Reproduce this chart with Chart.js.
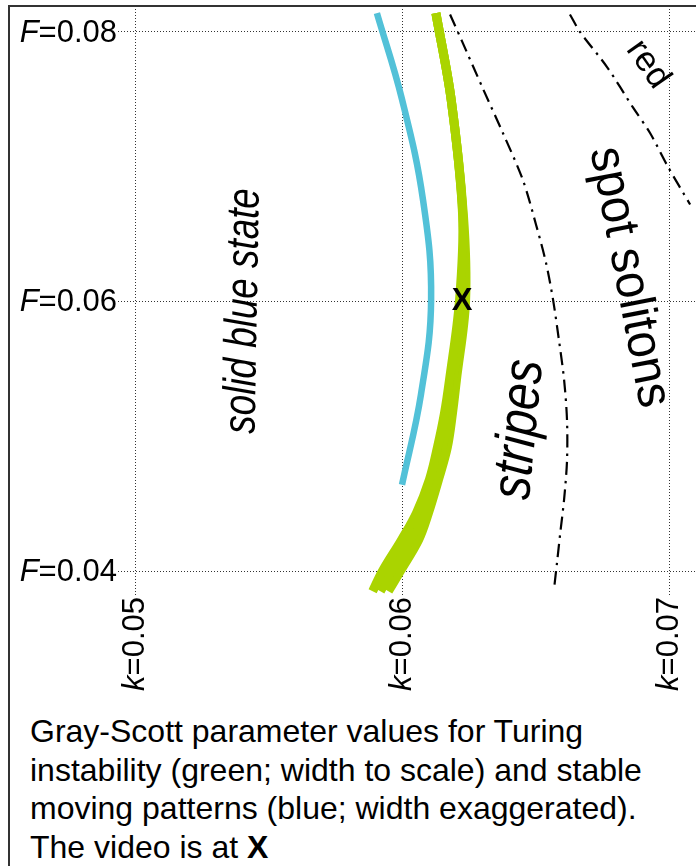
<!DOCTYPE html>
<html>
<head>
<meta charset="utf-8">
<script src="https://cdn.jsdelivr.net/npm/chart.js@4.4.1/dist/chart.umd.min.js"></script>
<style>
  body { margin: 0; background: #fff; width: 696px; height: 866px; overflow: hidden; position: relative;
         font-family: "Liberation Sans", Arial, sans-serif; }
  #wrap { position: absolute; left: 0; top: 0; width: 696px; height: 700px; }
  .frameL { position: absolute; left: 8px; top: 5px; width: 2px; height: 861px; background: #333; }
  .frameT { position: absolute; left: 8px; top: 5px; width: 688px; height: 2px; background: #333; }
  #caption { position: absolute; left: 30px; top: 712px; font-size: 32px; line-height: 38.5px;
             color: #000; white-space: nowrap; }
</style>
</head>
<body>
<div id="wrap"><canvas id="myChart" width="696" height="700"></canvas></div>
<div class="frameL"></div>
<div class="frameT"></div>
<div id="caption">Gray-Scott parameter values for Turing<br>instability (green; width to scale) and stable<br>moving patterns (blue; width exaggerated).<br>The video is at <b>X</b></div>
<script>
// axis ticks
var kTicks = [0.05, 0.06, 0.07];
var kTickLabels = ['0.05', '0.06', '0.07'];
var fTicks = [0.04, 0.06, 0.08];
var fTickLabels = ['0.04', '0.06', '0.08'];

// blue: stable moving patterns
var blueK = [0.05906, 0.06000, 0.06079, 0.06109, 0.06071, 0.06000];
var blueF = [0.0814, 0.0750, 0.0675, 0.0601, 0.0531, 0.0464];

// green: Turing instability band (three strokes)
var greenF = [0.0814, 0.0750, 0.0664, 0.0600, 0.0542, 0.0517, 0.0492, 0.0468, 0.0443, 0.0423, 0.0400, 0.0385];
var greenKLeft = [0.06127, 0.06184, 0.06227, 0.06215, 0.06178, 0.06159, 0.06133, 0.06103, 0.06054, 0.05998, 0.05927, 0.05890];
var greenKMid = [0.06127, 0.06184, 0.06228, 0.06227, 0.06191, 0.06174, 0.06152, 0.06120, 0.06077, 0.06030, 0.05961, 0.05919];
var greenKRight = [0.06127, 0.06184, 0.06230, 0.06238, 0.06204, 0.06189, 0.06170, 0.06137, 0.06099, 0.06062, 0.05994, 0.05949];

// dash-dot boundaries
var stripesK = [0.06180, 0.06225, 0.06303, 0.06378, 0.06453, 0.06502, 0.06539, 0.06566, 0.06588, 0.06607, 0.06618, 0.06618, 0.06607, 0.06592, 0.06581, 0.06569];
var stripesF = [0.0813, 0.0793, 0.0758, 0.0725, 0.0690, 0.0657, 0.0629, 0.0601, 0.0571, 0.0542, 0.0512, 0.0482, 0.0453, 0.0427, 0.0407, 0.0386];
var redK = [0.06629, 0.06667, 0.06768, 0.06865, 0.06929, 0.06996, 0.07079];
var redF = [0.0813, 0.0800, 0.0774, 0.0744, 0.0725, 0.0700, 0.0672];

// the video's parameters
var videoK = 0.06225;
var videoF = 0.060;

function pts(ks, fs) {
  return ks.map(function (k, i) { return { x: k, y: fs[i] }; });
}

var FONT = '"Liberation Sans", Arial, sans-serif';

// text placed in data coordinates (sx squeezes along the reading direction)
var notes = [
  { text: 'solid blue state', k: 0.05408, F: 0.0593, rot: -89, sx: 0.8, font: 'italic 46px ' + FONT },
  { text: 'stripes', k: 0.06442, F: 0.0505, rot: -84.5, sx: 0.85, font: 'italic 56px ' + FONT },
  { text: 'spot solitons', k: 0.06850, F: 0.0618, rot: 79, sx: 0.95, font: '50px ' + FONT },
  { text: 'red', k: 0.06921, F: 0.0776, rot: 55, sx: 1, font: '35px ' + FONT },
  { text: 'X', k: videoK, F: videoF, rot: 0, sx: 1, font: 'bold 31px ' + FONT }
];

var textPlugin = {
  id: 'texts',
  afterDraw: function (chart) {
    var ctx = chart.ctx, xs = chart.scales.x, ys = chart.scales.y;
    ctx.save();
    ctx.fillStyle = '#000';
    // F= labels
    fTicks.forEach(function (v, i) {
      var y = ys.getPixelForValue(v) + 1;
      ctx.textBaseline = 'middle';
      ctx.textAlign = 'right';
      ctx.font = '31px ' + FONT;
      var rest = '=' + fTickLabels[i];
      var w = ctx.measureText(rest).width;
      ctx.fillText(rest, xs.left - 1, y);
      ctx.font = 'italic 31px ' + FONT;
      ctx.fillText('F', xs.left - 1 - w, y);
    });
    // k= labels, rotated
    kTicks.forEach(function (v, i) {
      var x = xs.getPixelForValue(v);
      ctx.save();
      ctx.translate(x, ys.bottom + 2);
      ctx.rotate(-Math.PI / 2);
      ctx.textBaseline = 'middle';
      ctx.textAlign = 'right';
      ctx.font = '31px ' + FONT;
      var rest = '=' + kTickLabels[i];
      var w = ctx.measureText(rest).width;
      ctx.fillText(rest, 0, 0);
      ctx.font = 'italic 31px ' + FONT;
      ctx.fillText('k', -w, 0);
      ctx.restore();
    });
    notes.forEach(function (n) {
      ctx.save();
      ctx.translate(xs.getPixelForValue(n.k), ys.getPixelForValue(n.F));
      ctx.rotate(n.rot * Math.PI / 180);
      ctx.scale(n.sx, 1);
      ctx.font = n.font;
      ctx.textAlign = 'center';
      ctx.textBaseline = 'middle';
      ctx.fillText(n.text, 0, 0);
      ctx.restore();
    });
    ctx.restore();
  }
};

var dashDot = [13, 6, 2.5, 6];
var green = '#aad400';

var ctx = document.getElementById('myChart').getContext('2d');
var chart = new Chart(ctx, {
  type: 'scatter',
  data: {
    datasets: [
      { data: pts(stripesK, stripesF), showLine: true, borderColor: '#000', borderWidth: 2.2, borderDash: dashDot, tension: 0.3, pointRadius: 0 },
      { data: pts(redK, redF), showLine: true, borderColor: '#000', borderWidth: 2.2, borderDash: dashDot, tension: 0.3, pointRadius: 0 },
      { data: pts(blueK, blueF), showLine: true, borderColor: '#52c1d8', borderWidth: 6.5, tension: 0.4, pointRadius: 0 },
      { data: pts(greenKLeft, greenF), showLine: true, borderColor: green, borderWidth: 9, tension: 0.35, pointRadius: 0 },
      { data: pts(greenKMid, greenF), showLine: true, borderColor: green, borderWidth: 9, tension: 0.35, pointRadius: 0 },
      { data: pts(greenKRight, greenF), showLine: true, borderColor: green, borderWidth: 9, tension: 0.35, pointRadius: 0 }
    ]
  },
  options: {
    responsive: false,
    animation: false,
    layout: { padding: { left: 118, top: 6, right: 0, bottom: 105 } },
    plugins: { legend: { display: false }, tooltip: { enabled: false } },
    scales: {
      x: {
        type: 'linear', min: 0.049363, max: 0.071011,
        afterBuildTicks: function (s) { s.ticks = kTicks.map(function (v) { return { value: v }; }); },
        ticks: { display: false },
        grid: { color: '#333', lineWidth: 1, drawTicks: false },
        border: { display: false, dash: [1, 2] }
      },
      y: {
        type: 'linear', min: 0.038219, max: 0.081929,
        afterBuildTicks: function (s) { s.ticks = fTicks.map(function (v) { return { value: v }; }); },
        ticks: { display: false },
        grid: { color: '#333', lineWidth: 1, drawTicks: false },
        border: { display: false, dash: [1, 2] }
      }
    }
  },
  plugins: [textPlugin]
});
</script>
</body>
</html>
